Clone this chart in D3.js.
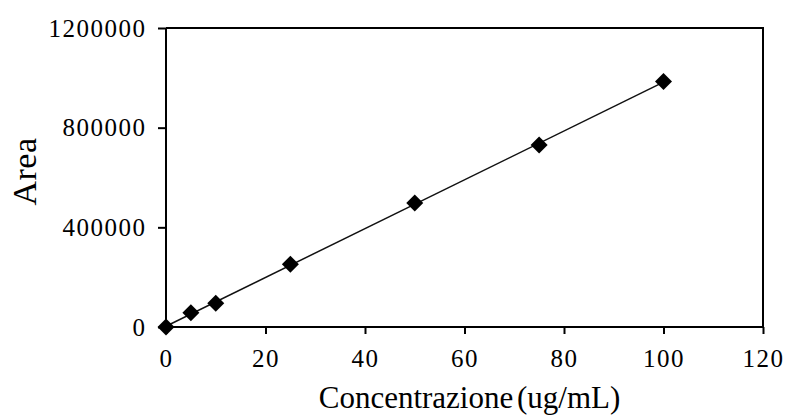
<!DOCTYPE html>
<html>
<head>
<meta charset="utf-8">
<script src="https://cdn.jsdelivr.net/npm/d3@7"></script>
<style>
  body { margin: 0; background: #fff; }
  text { font-family: "Liberation Serif", "Times New Roman", serif; fill: #000; }
</style>
</head>
<body>
<div id="content"></div>
<script>
// calibration points
let concentrations = [0, 5, 10, 25, 50, 75, 100];
let areas = [0, 57000, 95000, 252000, 498000, 730000, 985000];
let xTicks = [0, 20, 40, 60, 80, 100, 120];
let yTicks = [0, 400000, 800000, 1200000];

const margin = {top: 28, right: 24, bottom: 90, left: 166},
    width = 787 - margin.left - margin.right,
    height = 417 - margin.top - margin.bottom;

var svg = d3.select("#content")
    .append("svg")
    .attr("width", 787)
    .attr("height", 417)
    .append("g")
    .attr("transform", "translate(" + margin.left + "," + margin.top + ")");

let x = d3.scaleLinear().domain([0, 120]).range([0, width]);
let y = d3.scaleLinear().domain([0, 1200000]).range([height, 0]);

let data = concentrations.map((c, i) => ({c: c, a: areas[i]}));

// least squares trend line (through the points)
let mx = d3.mean(data, d => d.c), my = d3.mean(data, d => d.a);
let slope = d3.sum(data, d => (d.c - mx) * (d.a - my)) / d3.sum(data, d => (d.c - mx) ** 2);
let icpt = my - slope * mx;
let ext = d3.extent(concentrations);

// plot box (top and right)
svg.append("path")
    .attr("d", "M0,0H" + width + "V" + height)
    .attr("fill", "none")
    .attr("stroke", "#000")
    .attr("stroke-width", 2);

let xAxis = d3.axisBottom(x).tickValues(xTicks).tickSize(7).tickPadding(15)
    .tickFormat(d3.format("d"));
let yAxis = d3.axisLeft(y).tickValues(yTicks).tickSize(8).tickPadding(11.5)
    .tickFormat(d3.format("d"));

let gx = svg.append("g")
    .attr("transform", "translate(0," + height + ")")
    .call(xAxis);
let gy = svg.append("g").call(yAxis);

[gx, gy].forEach(g => {
    g.select(".domain").attr("stroke-width", 2);
    g.selectAll(".tick line").attr("stroke-width", 2);
    g.selectAll(".tick text")
        .style("font-family", "Liberation Serif")
        .style("font-size", "25px")
        .style("letter-spacing", "1.5px");
});
gy.select(".domain").attr("d", "M0," + height + "V0");
gx.select(".domain").attr("d", "M0,0H" + width);

svg.append("line")
    .attr("x1", x(ext[0])).attr("y1", y(icpt + slope * ext[0]))
    .attr("x2", x(ext[1])).attr("y2", y(icpt + slope * ext[1]))
    .attr("stroke", "#111")
    .attr("stroke-width", 1.5);

svg.selectAll(".pt")
    .data(data)
    .enter().append("path")
    .attr("class", "pt")
    .attr("d", d3.symbol().type(d3.symbolSquare).size(144))
    .attr("transform", d => "translate(" + x(d.c) + "," + y(d.a) + ") rotate(45)")
    .attr("fill", "#000");

svg.append("text")
    .attr("x", width / 2 + 5)
    .attr("y", height + 81)
    .attr("text-anchor", "middle")
    .style("font-size", "31px")
    .style("word-spacing", "-4px")
    .text("Concentrazione (ug/mL)");

svg.append("text")
    .attr("transform", "translate(" + (-130) + "," + (height / 2 - 6) + ") rotate(-90)")
    .attr("text-anchor", "middle")
    .style("font-size", "34px")
    .style("letter-spacing", "0.5px")
    .text("Area");
</script>
</body>
</html>
